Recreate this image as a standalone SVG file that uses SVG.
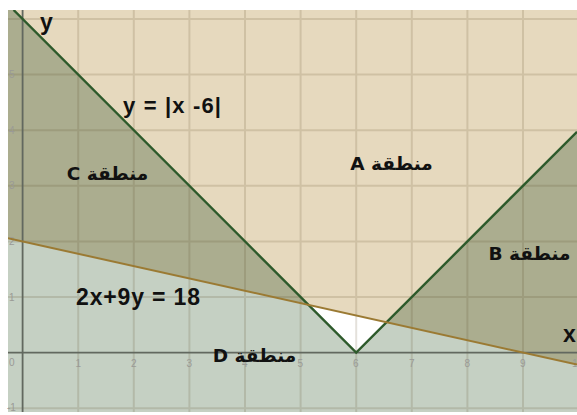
<svg xmlns="http://www.w3.org/2000/svg" width="577" height="415" viewBox="0 0 577 415">
<style>
.grid{stroke:rgba(90,70,30,0.16);stroke-width:2;fill:none}
.axis{stroke:#62685f;stroke-width:1.8;fill:none}
.tick{font-family:"Liberation Sans","DejaVu Sans",sans-serif;font-size:10px;fill:#9a9a96}
.lbl{font-family:"Liberation Sans","DejaVu Sans",sans-serif;font-weight:bold;fill:#111}
.ar{font-family:"DejaVu Sans","Liberation Sans",sans-serif;font-weight:bold;font-size:18.5px;fill:#111;text-anchor:middle}
</style>
<defs>
<clipPath id="plot"><rect x="8" y="10" width="569" height="402"/></clipPath>
</defs>
<rect width="577" height="415" fill="#ffffff"/>
<g id="regions" clip-path="url(#plot)">
<rect x="8" y="10" width="569" height="402" fill="#c5d0c3"/>
<polygon id="regionA" points="13.6,10 577,10 577,131.8 386.5,322.3 308.5,304.9" fill="#e6d9be"/>
<polygon id="white" points="308.5,304.9 356.2,352.6 386.5,322.3" fill="#ffffff"/>
<polygon id="regionC" points="8,10 13.6,10 308.5,304.9 8,238.2" fill="#abad8f"/>
<polygon id="regionB" points="386.5,322.3 577,131.8 577,364.6" fill="#abad8f"/>
</g>
<g id="grid" clip-path="url(#plot)">
<path class="grid" d="M78.2,10V412M133.8,10V412M189.4,10V412M245,10V412M300.6,10V412M356.2,10V412M411.8,10V412M467.4,10V412M523,10V412M8,19H577M8,74.6H577M8,130.2H577M8,185.8H577M8,241.4H577M8,297H577M8,408.2H577"/>
<path class="axis" d="M22.6,10V412M8,352.6H577"/>
</g>
<g id="ticks">
<text class="tick" x="9" y="366">0</text>
<text class="tick" x="75.5" y="367">1</text>
<text class="tick" x="131" y="367">2</text>
<text class="tick" x="186.5" y="367">3</text>
<text class="tick" x="242" y="367">4</text>
<text class="tick" x="297.5" y="367">5</text>
<text class="tick" x="353" y="367">6</text>
<text class="tick" x="409" y="367">7</text>
<text class="tick" x="464.5" y="367">8</text>
<text class="tick" x="520" y="367">9</text>
<text class="tick" x="572" y="367">1</text>
<text class="tick" x="9" y="300.5">1</text>
<text class="tick" x="9" y="244.5">2</text>
<text class="tick" x="9" y="189">3</text>
<text class="tick" x="9" y="133.5">4</text>
<text class="tick" x="9" y="78">5</text>
<text class="tick" x="7" y="411">-1</text>
</g>
<g id="connectors" clip-path="url(#plot)">
<polyline id="abs" points="13.6,10 356.2,352.6 577,131.8" fill="none" stroke="#2d5a2b" stroke-width="2.4"/>
<line id="lin" x1="8" y1="238.2" x2="577" y2="364.6" stroke="#9b7a33" stroke-width="2"/>
</g>
<g id="labels">
<text class="lbl" x="40" y="30" font-size="23">y</text>
<text class="lbl" x="563" y="342" font-size="23">x</text>
<text class="lbl" x="123" y="113" font-size="22" textLength="98" lengthAdjust="spacing">y = |x -6|</text>
<text class="lbl" x="76" y="305" font-size="23" textLength="124" lengthAdjust="spacing">2x+9y = 18</text>
<text class="ar" x="107.5" y="180" direction="rtl">منطقة C</text>
<text class="ar" x="391.5" y="170" direction="rtl">منطقة A</text>
<text class="ar" x="529.5" y="260" direction="rtl">منطقة B</text>
<text class="ar" x="254.5" y="362" direction="rtl">منطقة D</text>
</g>
</svg>
